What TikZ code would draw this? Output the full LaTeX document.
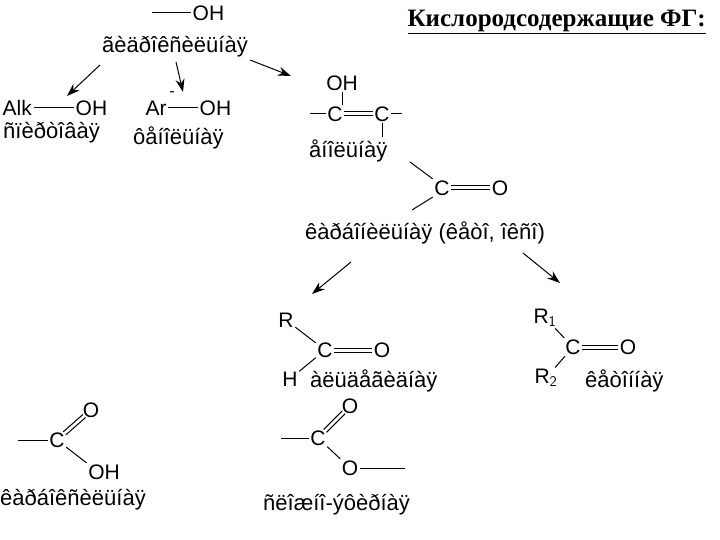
\documentclass[tikz,border=0pt]{standalone}
\usepackage{fontspec}
\setmainfont{Liberation Sans}
\newfontfamily\titlefont{Liberation Serif}
\usetikzlibrary{arrows.meta,calc}
\begin{document}
\begin{tikzpicture}[x=1pt,y=-1pt,
  lbl/.style={font=\fontsize{22}{24}\selectfont, inner sep=0pt},
  atom/.style={font=\fontsize{21}{22}\selectfont, inner sep=1.5pt},
  bond/.style={line width=1pt},
  arr/.style={line width=1pt, -{Stealth[length=13pt,width=9pt]}}]
\newcommand\dblbond[2]{%
  \draw[bond] ($(#1)!2pt!90:(#2)$) -- ($(#2)!2pt!-90:(#1)$);
  \draw[bond] ($(#1)!2pt!-90:(#2)$) -- ($(#2)!2pt!90:(#1)$);}
\newcommand\dbldiag[2]{%
  \coordinate (dA) at ($(#1)!10pt!(#2)$);
  \coordinate (dB) at ($(#2)!9pt!(#1)$);
  \dblbond{dA}{dB}}
\useasboundingbox[fill=white] (0,0) rectangle (720,540);
\node[font=\titlefont\bfseries\fontsize{25}{28}\selectfont, anchor=east, inner sep=0pt] (title) at (706,22) {\underline{Кислородсодержащие ФГ:}};
% hydroxyl
\coordinate (h0) at (152,13);
\node[atom, anchor=west] (hOH) at (191,13) {OH};
\draw[bond] (h0) -- (hOH.west);
\node[lbl] (tHyd) at (175,47) {ãèäðîêñèëüíàÿ};
\coordinate (a1s) at (100,65); \coordinate (a1e) at (67,96);
\coordinate (a2s) at (176,62); \coordinate (a2e) at (183,92);
\coordinate (a3s) at (250,60); \coordinate (a3e) at (291,76);
\draw[arr] (a1s) -- (a1e);
\draw[arr] (a2s) -- (a2e);
\draw[arr] (a3s) -- (a3e);
% alcohol
\node[atom, anchor=west] (alk) at (1,108) {Alk};
\node[atom, anchor=west] (alkOH) at (74,108) {OH};
\draw[bond] (alk.east) -- (alkOH.west);
\node[lbl, anchor=west] (tAlc) at (3,133) {ñïèðòîâàÿ};
% phenol
\node[atom, anchor=west] (ar) at (144,108) {Ar};
\node[font=\fontsize{16}{16}\selectfont, inner sep=0pt] (arm) at (172,94) {-};
\node[atom, anchor=west] (arOH) at (198,108) {OH};
\draw[bond] (ar.east) -- (arOH.west);
\node[lbl, anchor=west] (tPhen) at (133,138) {ôåíîëüíàÿ};
% enol
\node[atom] (eC1) at (335,114) {C};
\node[atom] (eC2) at (382,114) {C};
\node[atom] (eOH) at (342,83) {OH};
\coordinate (eL) at (310,114); \coordinate (eR) at (402,114); \coordinate (eD) at (382,137);
\draw[bond] (eL) -- (eC1.west);
\dblbond{eC1.east}{eC2.west}
\draw[bond] (eC2.east) -- (eR);
\draw[bond] (eC1.north -| eOH.south) -- (eOH.south);
\draw[bond] (eC2.south) -- (eD);
\node[lbl, anchor=west] (tEnol) at (309,151) {åíîëüíàÿ};
% carbonyl
\node[atom] (kC) at (442,188) {C};
\node[atom] (kO) at (500,188) {O};
\coordinate (k1) at (410,162); \coordinate (k2) at (412,210);
\draw[bond] (k1) -- (kC.north west);
\draw[bond] (k2) -- (kC.south west);
\dblbond{kC.east}{kO.west}
\node[lbl, anchor=west] (tCarb) at (305,233) {êàðáîíèëüíàÿ (êåòî, îêñî)};
\coordinate (a4s) at (351,262); \coordinate (a4e) at (312,294);
\coordinate (a5s) at (523,253); \coordinate (a5e) at (560,283);
\draw[arr] (a4s) -- (a4e);
\draw[arr] (a5s) -- (a5e);
% aldehyde
\node[atom] (dR) at (286,320) {R};
\node[atom] (dC) at (325,350) {C};
\node[atom] (dO) at (382,350) {O};
\node[atom] (dH) at (290,379) {H};
\draw[bond] (dR) -- (dC);
\draw[bond] (dH) -- (dC);
\dblbond{dC.east}{dO.west}
\node[lbl, anchor=west] (tAld) at (310,381) {àëüäåãèäíàÿ};
% ketone
\node[atom] (tR1) at (545,318) {R$_{\mathsf{1}}$};
\node[atom] (tC) at (573,347) {C};
\node[atom] (tO) at (628,347) {O};
\node[atom] (tR2) at (546,378) {R$_{\mathsf{2}}$};
\draw[bond] (tR1) -- (tC);
\draw[bond] (tR2) -- (tC);
\dblbond{tC.east}{tO.west}
\node[lbl, anchor=west] (tKet) at (585,381) {êåòîííàÿ};
% carboxyl
\node[atom] (cC) at (57,440) {C};
\node[atom] (cO) at (91,410) {O};
\node[atom] (cOH) at (104,472) {OH};
\coordinate (cL) at (18,440);
\draw[bond] (cL) -- (cC.west);
\dbldiag{cC}{cO}
\draw[bond] (cC) -- (cOH.north west);
\node[lbl, anchor=west] (tCarbox) at (0,500) {êàðáîêñèëüíàÿ};
% ester
\node[atom] (sC) at (318,438) {C};
\node[atom] (sO1) at (350,406) {O};
\node[atom] (sO2) at (350,468) {O};
\coordinate (sL) at (281,438); \coordinate (sR) at (405,468);
\draw[bond] (sL) -- (sC.west);
\dbldiag{sC}{sO1}
\draw[bond] (sC) -- (sO2);
\draw[bond] (sO2.east) -- (sR);
\node[lbl, anchor=west] (tEst) at (263,505) {ñëîæíî-ýôèðíàÿ};
\end{tikzpicture}
\end{document}
